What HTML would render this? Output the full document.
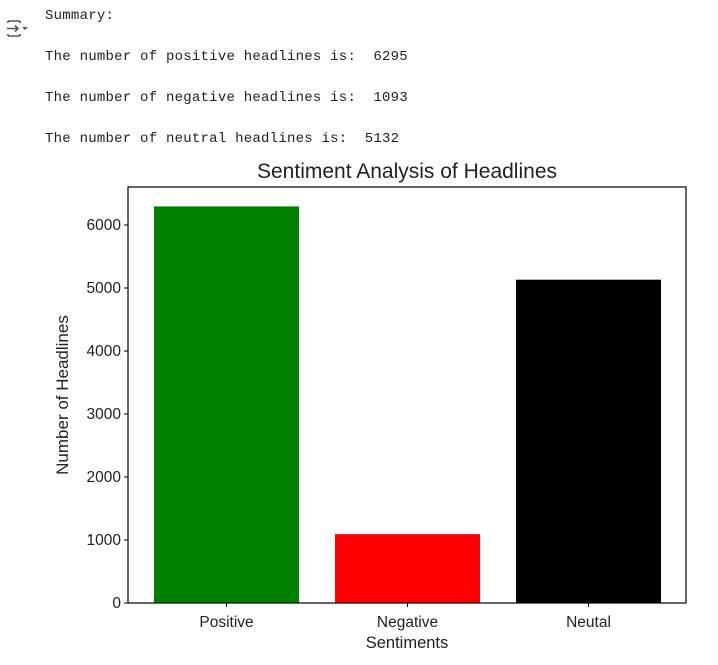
<!DOCTYPE html>
<html><head><meta charset="utf-8"><style>
body{margin:0;background:#fff;width:718px;height:665px;overflow:hidden;position:relative;font-family:"Liberation Mono",monospace}
.t{position:absolute;left:45px;font-size:14px;letter-spacing:0.24px;color:#222;white-space:pre}
</style></head><body>
<svg style="position:absolute;left:6px;top:19px" width="24" height="20" viewBox="0 0 24 20">
<path d="M2 2h12M2 17h12M2 2v2M2 17v-2M14 2v2M14 17v-2" stroke="#555" stroke-width="1.6" fill="none"/>
<path d="M1 9.5h11M9 6.5l3 3-3 3" stroke="#555" stroke-width="1.6" fill="none"/>
<path d="M16 8h6l-3 3z" fill="#555"/></svg>
<div class="t" style="top:8px">Summary:</div>
<div class="t" style="top:49px">The number of positive headlines is:  6295</div>
<div class="t" style="top:90px">The number of negative headlines is:  1093</div>
<div class="t" style="top:131px">The number of neutral headlines is:  5132</div>
<svg id="chart" style="position:absolute;left:0;top:0" width="718" height="665" font-family="Liberation Sans, DejaVu Sans, sans-serif"></svg>
<script>
const categories=["Positive","Negative","Neutal"];
const values=[6295,1093,5132];
const colors=["green","red","black"];
const yTicks=[0,1000,2000,3000,4000,5000,6000];
const L=128,R=686,T=187,B=603;
const NS="http://www.w3.org/2000/svg";
const svg=document.getElementById('chart');
function y(v){return B-v*(378/6000);}
function x(i){return 226.5+i*181;}
function mk(tag,a,txt){const e=document.createElementNS(NS,tag);for(const k in a)e.setAttribute(k,a[k]);if(txt!=null)e.textContent=txt;svg.appendChild(e);return e;}
values.forEach((v,i)=>{
 const r=mk('rect',{x:x(i)-72.5,y:y(v),width:145,height:B-y(v),fill:colors[i]});
 
 
 mk('line',{x1:x(i),x2:x(i),y1:B,y2:B+4,stroke:'#000','stroke-width':1});
 const tl=mk('text',{x:x(i),y:B+24,'text-anchor':'middle','font-size':15.5,fill:'#222'},categories[i]);
 
 
});
yTicks.forEach(v=>{
 mk('line',{x1:L-4,x2:L,y1:y(v),y2:y(v),stroke:'#000','stroke-width':1});
 const t=mk('text',{x:L-7,y:y(v)+5,'text-anchor':'end','font-size':15.5,fill:'#222'},v);
 
 
});
const f=mk('rect',{x:L,y:T,width:R-L,height:B-T,fill:'none',stroke:'#000','stroke-width':1.2});


const ti=mk('text',{x:(L+R)/2,y:178,'text-anchor':'middle','font-size':21,fill:'#222'},'Sentiment Analysis of Headlines');


const xt=mk('text',{x:(L+R)/2,y:648,'text-anchor':'middle','font-size':16.5,fill:'#222'},'Sentiments');


const yt=mk('text',{x:0,y:0,'text-anchor':'middle','font-size':17,fill:'#222',transform:'translate(68,395) rotate(-90)'},'Number of Headlines');


</script>
</body></html>
